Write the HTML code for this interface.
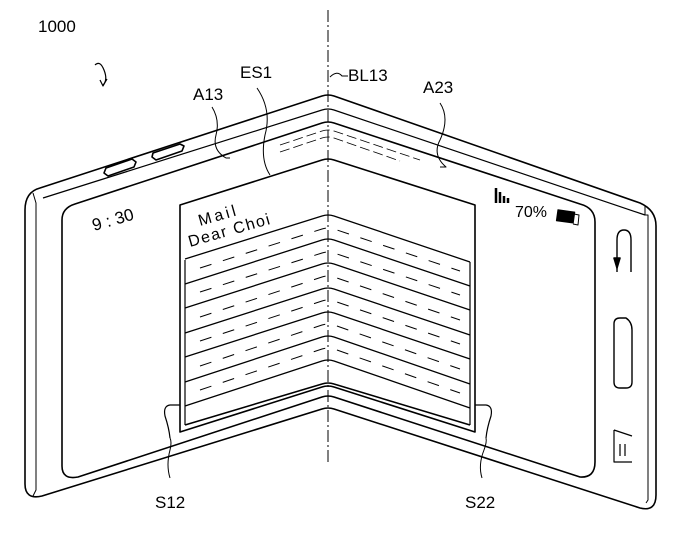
<!DOCTYPE html>
<html><head><style>body{margin:0;background:#fff}svg{display:block}text{font-family:"Liberation Sans",sans-serif;fill:#000}</style></head><body>
<svg width="693" height="543" viewBox="0 0 693 543" xmlns="http://www.w3.org/2000/svg" fill="none" stroke="#000" stroke-width="1.6" stroke-linejoin="round">
<!-- outer body -->
<path d="M40,188 L322,96 Q328,94 334,96 L640,203 Q656,210 656,226 L656,495 Q656,512 640,508 L334,409 Q328,407 322,409 L42,496 Q25,500 25,484 L25,210 Q25,192 40,188 Z"/>
<path d="M33,193 L36,203 L36,490 L33,496" stroke-width="1"/>
<path d="M645,206 L645,215 L648,215 L648,500 L646,503" stroke-width="1"/>
<path d="M43,198 L322,110 Q328,108 334,110 L645,215" stroke-width="1.2"/>
<!-- bezel dashed -->
<path d="M280,145 L322,131 Q328,129 334,131 L420,160" stroke-width="0.8" stroke-dasharray="10,4"/>
<path d="M280,152 L322,138 Q328,136 334,138 L400,161" stroke-width="0.8" stroke-dasharray="10,4"/>
<!-- screen -->
<path d="M75,204 L322,123 Q328,121 334,123 L580,204 Q595,208 595,222 L595,462 Q595,478 580,477 L334,397 Q328,395 322,397 L78,477 Q62,480 62,466 L62,220 Q62,208 75,204 Z"/>
<!-- top buttons -->
<path d="M106,168 L132,159 L136,162 L134,167 L108,176 L104,173 Z"/>
<path d="M153,153 L180,144 L184,146 L182,151 L156,160 L152,157 Z"/>
<!-- mail panel -->
<path d="M180,205 L322,160 Q328,158 334,160 L475,205 L475,432 L334,387 Q328,385 322,387 L180,432 Z"/>
<path d="M185,425 L322,384 Q328,382 334,384 L470,425"/>
<path d="M185,260 L185,425 M470,262 L470,425" stroke-width="1.2"/>
<g stroke-width="1.3">
<path d="M185,259 L322,216 Q328,214 334,216 L470,262"/>
<path d="M185,284 L322,240 Q328,238 334,240 L470,286"/>
<path d="M185,308 L322,264 Q328,262 334,264 L470,310"/>
<path d="M185,333 L322,289 Q328,287 334,289 L470,335"/>
<path d="M185,357 L322,313 Q328,311 334,313 L470,359"/>
<path d="M185,382 L322,337 Q328,335 334,337 L470,384"/>
<path d="M185,406 L322,361 Q328,359 334,361 L470,408"/>
</g>
<g stroke-width="1" stroke-dasharray="12,12">
<path d="M200,268 L322,229 Q328,227 334,229 L460,271"/>
<path d="M200,292 L322,253 Q328,251 334,253 L460,295"/>
<path d="M200,317 L322,277 Q328,275 334,277 L460,320"/>
<path d="M200,341 L322,301 Q328,299 334,301 L460,344"/>
<path d="M200,366 L322,325 Q328,323 334,325 L460,369"/>
<path d="M200,390 L322,349 Q328,347 334,349 L460,393"/>
</g>
<!-- tabs S12 S22 -->
<path d="M180,405 L170,405 Q163,406 165,416 Q169,428 170,438" stroke-width="1.2"/>
<path d="M475,405 L486,405 Q493,406 491,416 Q487,428 486,438" stroke-width="1.2"/>
<!-- fold line -->
<path d="M328,10 L328,465" stroke-width="1" stroke-dasharray="12,3,2,3"/>
<!-- right icons -->
<path d="M617,272 L617,240 Q617,230 624,230 Q631,230 631,240 L631,272" stroke-width="1.4"/>
<path d="M614,258 L617,268 L620,258 Z" fill="#000"/>
<path d="M614,324 Q614,318 620,318 L626,318 Q632,322 632,330 L632,382 Q632,388 626,388 L620,388 Q614,388 614,382 Z" stroke-width="1.4"/>
<path d="M614,430 L614,462 L632,462 M614,430 L632,436" stroke-width="1.2"/>
<path d="M620,444 L620,456 M625,444 L625,456" stroke-width="1.2"/>
<!-- status icons -->
<path d="M496,188 L496,203 M500,192 L500,203 M504,196 L504,203 M508,198 L508,203" stroke-width="2.5"/>
<rect x="557" y="211" width="17" height="11" fill="#000" stroke-width="1" transform="rotate(8 566 217)"/>
<path d="M574,214 L579,215 L578,225 L573,224" stroke-width="1"/>
<!-- leaders -->
<path d="M212,107 Q220,120 216,135 Q212,150 226,158 L230,158" stroke-width="1"/>
<path d="M257,88 Q272,110 265,135 Q260,160 270,175" stroke-width="1"/>
<path d="M330,77 Q337,70 342,76 L348,76" stroke-width="1"/>
<path d="M440,103 Q450,118 440,140 Q432,155 446,167 L440,167" stroke-width="1"/>
<path d="M170,478 Q166,465 170,450 Q172,442 170,438" stroke-width="1"/>
<path d="M482,478 Q478,465 484,450 Q487,442 486,438" stroke-width="1"/>
<path d="M95,65 Q100,60 104,70 Q108,80 103,85 M100,80 L103,86 L107,79" stroke-width="1.2"/>
<g stroke="none" font-size="17">
<text x="38" y="32">1000</text>
<text x="193" y="100">A13</text>
<text x="240" y="78">ES1</text>
<text x="348" y="81">BL13</text>
<text x="423" y="93">A23</text>
<text x="155" y="508">S12</text>
<text x="465" y="508">S22</text>
<text x="515" y="217" font-size="16">70%</text>
<text transform="translate(94,231) rotate(-16)" font-size="17">9 : 30</text>
<text transform="translate(200,226) rotate(-16)" font-size="16" letter-spacing="3">Mail</text>
<text transform="translate(190,247) rotate(-16)" font-size="16" letter-spacing="1.5">Dear Choi</text>
</g>
</svg>
</body></html>
